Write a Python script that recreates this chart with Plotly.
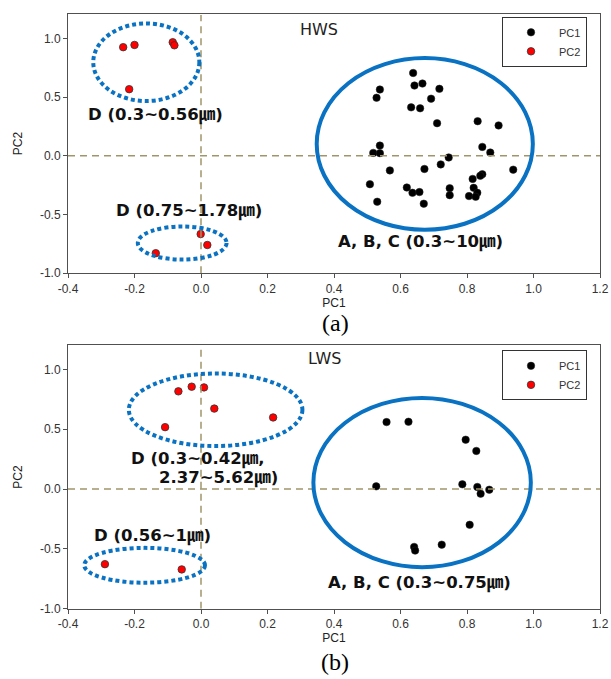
import plotly.graph_objects as go

# ---------------- data ----------------
# (a) HWS
hws_pc1_x = [0.638, 0.538, 0.528, 0.642, 0.666, 0.717, 0.692, 0.632, 0.659, 0.710,
             0.832, 0.895, 0.538, 0.518, 0.538, 0.846, 0.870, 0.745, 0.721, 0.672,
             0.568, 0.939, 0.846, 0.840, 0.508, 0.817, 0.619, 0.636, 0.657, 0.748,
             0.748, 0.820, 0.831, 0.806, 0.826, 0.530, 0.670]
hws_pc1_y = [0.706, 0.565, 0.495, 0.599, 0.616, 0.571, 0.487, 0.413, 0.405, 0.278,
             0.295, 0.259, 0.087, 0.025, 0.023, 0.076, 0.028, -0.014, -0.073, -0.112,
             -0.124, -0.118, -0.157, -0.170, -0.242, -0.197, -0.270, -0.315, -0.309, -0.276,
             -0.335, -0.273, -0.315, -0.343, -0.349, -0.391, -0.408]
hws_pc2_x = [-0.234, -0.200, -0.085, -0.080, -0.216, -0.001, 0.019, -0.136]
hws_pc2_y = [0.926, 0.945, 0.968, 0.942, 0.568, -0.667, -0.760, -0.830]

# (b) LWS
lws_pc1_x = [0.558, 0.624, 0.796, 0.828, 0.527, 0.786, 0.831, 0.867, 0.841, 0.808,
             0.724, 0.641, 0.644]
lws_pc1_y = [0.559, 0.562, 0.412, 0.318, 0.022, 0.039, 0.017, -0.006, -0.039, -0.299,
             -0.465, -0.484, -0.515]
lws_pc2_x = [-0.068, -0.028, 0.009, 0.040, 0.217, -0.108, -0.289, -0.058]
lws_pc2_y = [0.816, 0.855, 0.849, 0.672, 0.598, 0.517, -0.628, -0.672]

series_names = ["PC1", "PC2"]
x_ticks = [-0.4, -0.2, 0.0, 0.2, 0.4, 0.6, 0.8, 1.0, 1.2]
y_ticks = [-1.0, -0.5, 0.0, 0.5, 1.0]

# cluster outlines (data units): x0, x1, y0, y1
hws_groups = {"solid": [(0.348, 0.998, -0.630, 0.833)],
              "dotted": [(-0.324, -0.005, 0.467, 1.128), (-0.190, 0.077, -0.884, -0.602)]}
lws_groups = {"solid": [(0.338, 0.992, -0.653, 0.761)],
              "dotted": [(-0.217, 0.305, 0.359, 0.965), (-0.351, 0.012, -0.783, -0.492)]}

BLUE = "#0A72C2"
ZERO = "#A0956A"
FRAME = "#505050"
LABEL_FONT = dict(family="DejaVu Sans, Noto Sans CJK KR", size=16.5, color="#111111")
TITLE_FONT = dict(family="Liberation Sans", size=12, color="#222")

W, H = 611, 679
def py(p):  # page pixel row -> paper fraction
    return 1 - p / H

fig = go.Figure()

def add_panel(xa, ya, pc1x, pc1y, pc2x, pc2y, legend_name):
    fig.add_trace(go.Scatter(x=pc1x, y=pc1y, mode="markers", name=series_names[0],
                             xaxis=xa, yaxis=ya, legend=legend_name,
                             marker=dict(color="black", size=7.5, line=dict(color="#222", width=0.5))))
    fig.add_trace(go.Scatter(x=pc2x, y=pc2y, mode="markers", name=series_names[1],
                             xaxis=xa, yaxis=ya, legend=legend_name,
                             marker=dict(color="#FF0000", size=7.5, line=dict(color="#333", width=0.8))))

add_panel("x", "y", hws_pc1_x, hws_pc1_y, hws_pc2_x, hws_pc2_y, "legend")
add_panel("x2", "y2", lws_pc1_x, lws_pc1_y, lws_pc2_x, lws_pc2_y, "legend2")

shapes = []
for xr, yr, groups in [("x", "y", hws_groups), ("x2", "y2", lws_groups)]:
    shapes.append(dict(type="line", xref=xr, yref=yr, x0=-0.4, x1=1.2, y0=0, y1=0,
                       line=dict(color=ZERO, width=1.5, dash="7px,5px")))
    shapes.append(dict(type="line", xref=xr, yref=yr, x0=0, x1=0, y0=-1.0, y1=1.2,
                       line=dict(color=ZERO, width=1.5, dash="7px,5px")))
    for (x0, x1, y0, y1) in groups["solid"]:
        shapes.append(dict(type="circle", xref=xr, yref=yr, x0=x0, x1=x1, y0=y0, y1=y1,
                           line=dict(color=BLUE, width=4)))
    for (x0, x1, y0, y1) in groups["dotted"]:
        shapes.append(dict(type="circle", xref=xr, yref=yr, x0=x0, x1=x1, y0=y0, y1=y1,
                           line=dict(color=BLUE, width=4, dash="4px,3px")))

annotations = [
    dict(text="HWS", x=0.355, y=1.08, xref="x", yref="y", showarrow=False,
         font=dict(family="DejaVu Sans", size=16, color="#222")),
    dict(text="<b>D (0.3~0.56㎛)</b>", x=-0.137, y=0.346, xref="x", yref="y", showarrow=False, font=LABEL_FONT),
    dict(text="<b>D (0.75~1.78㎛)</b>", x=-0.036, y=-0.473, xref="x", yref="y", showarrow=False, font=LABEL_FONT),
    dict(text="<b>A, B, C (0.3~10㎛)</b>", x=0.660, y=-0.734, xref="x", yref="y", showarrow=False, font=LABEL_FONT),
    dict(text="LWS", x=0.371, y=1.09, xref="x2", yref="y2", showarrow=False,
         font=dict(family="DejaVu Sans", size=16, color="#222")),
    dict(text="<b>D (0.3~0.42㎛,</b>", x=-0.217, y=0.249, xref="x2", yref="y2", xanchor="left",
         showarrow=False, font=LABEL_FONT),
    dict(text="<b>2.37~5.62㎛)</b>", x=-0.131, y=0.094, xref="x2", yref="y2", xanchor="left",
         showarrow=False, font=LABEL_FONT),
    dict(text="<b>D (0.56~1㎛)</b>", x=-0.146, y=-0.39, xref="x2", yref="y2", showarrow=False, font=LABEL_FONT),
    dict(text="<b>A, B, C (0.3~0.75㎛)</b>", x=0.658, y=-0.788, xref="x2", yref="y2", showarrow=False, font=LABEL_FONT),
    dict(text="(a)", x=(335 - 68) / 532, y=py(326), xref="paper", yref="paper", showarrow=False,
         xanchor="center", yanchor="middle",
         font=dict(family="Liberation Serif", size=24, color="black")),
    dict(text="(b)", x=(335 - 68) / 532, y=py(669), xref="paper", yref="paper", showarrow=False,
         xanchor="center", yanchor="middle",
         font=dict(family="Liberation Serif", size=24, color="black")),
]

axis_common = dict(showline=True, linecolor=FRAME, linewidth=1, mirror=True, ticks="outside",
                   ticklen=4, tickcolor=FRAME, showgrid=False, zeroline=False,
                   tickfont=dict(family="Liberation Sans", size=12, color="#333"))

legend_common = dict(xanchor="left", yanchor="top", bordercolor="#333", borderwidth=1,
                     bgcolor="white", font=dict(family="Liberation Sans", size=11, color="#333"),
                     itemwidth=46, tracegroupgap=0)

fig.update_layout(
    width=W, height=H,
    margin=dict(l=68, r=11, t=0, b=0),
    plot_bgcolor="white", paper_bgcolor="white",
    shapes=shapes, annotations=annotations,
    xaxis=dict(domain=[0, 1], anchor="y", range=[-0.4, 1.2], tickvals=x_ticks,
               ticktext=[f"{v:.1f}" for v in x_ticks],
               title=dict(text="PC1", standoff=0, font=TITLE_FONT), **axis_common),
    yaxis=dict(domain=[py(276), py(14)], anchor="x", range=[-1.0, 1.21], tickvals=y_ticks,
               ticktext=[f"{v:.1f}" for v in y_ticks],
               title=dict(text="PC2", standoff=14, font=TITLE_FONT), **axis_common),
    xaxis2=dict(domain=[0, 1], anchor="y2", range=[-0.4, 1.2], tickvals=x_ticks,
                ticktext=[f"{v:.1f}" for v in x_ticks],
                title=dict(text="PC1", standoff=0, font=TITLE_FONT), **axis_common),
    yaxis2=dict(domain=[py(615), py(349)], anchor="x2", range=[-1.0, 1.2], tickvals=y_ticks,
                ticktext=[f"{v:.1f}" for v in y_ticks],
                title=dict(text="PC2", standoff=14, font=TITLE_FONT), **axis_common),
    legend=dict(x=(502 - 68) / 532, y=py(17), **legend_common),
    legend2=dict(x=(502 - 68) / 532, y=py(354), **legend_common),
)

fig.write_html("out.html", config={"displayModeBar": False},
               post_script="document.body.style.margin='0px';")
